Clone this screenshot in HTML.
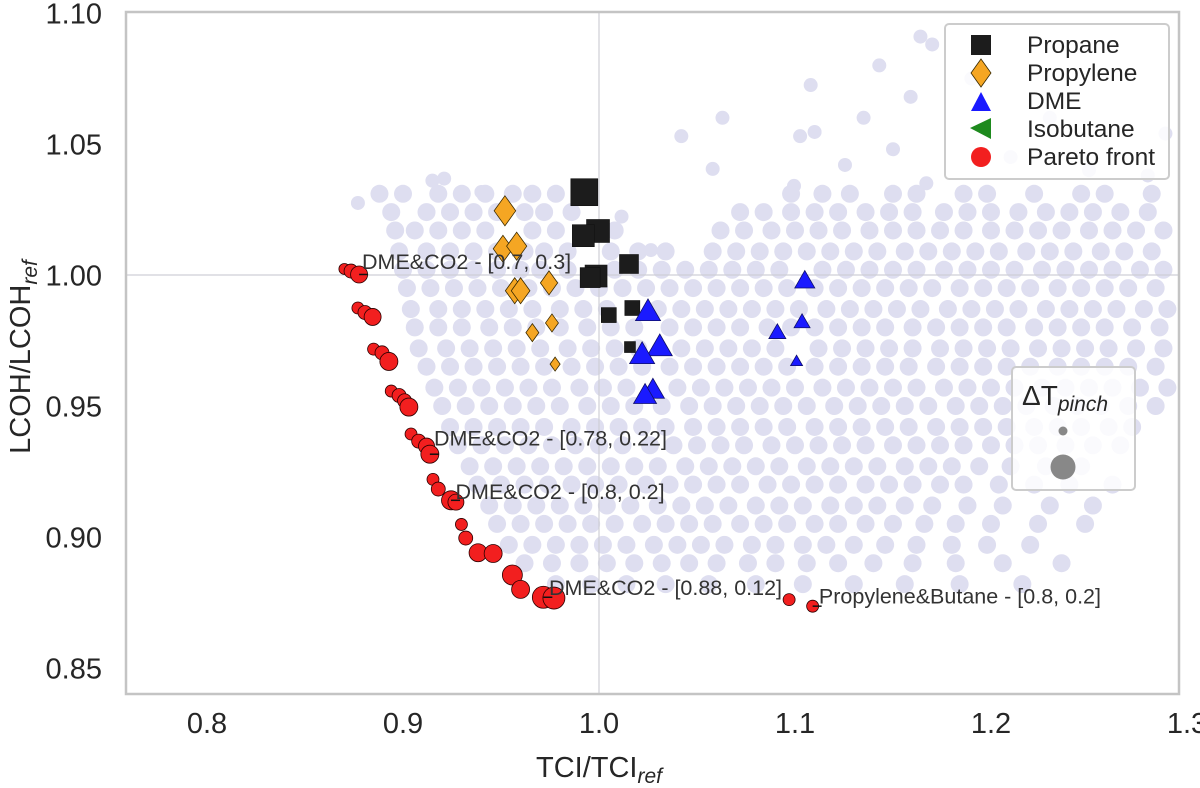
<!DOCTYPE html>
<html><head><meta charset="utf-8"><style>
html,body{margin:0;padding:0;background:#fff;}
svg{display:block;font-family:"Liberation Sans",Arial,sans-serif;}
</style></head><body>
<svg id="chart" width="1200" height="788" viewBox="0 0 1200 788" xmlns="http://www.w3.org/2000/svg">
<rect x="0" y="0" width="1200" height="788" fill="#fff"/>
<g id="cloud"></g>
<g id="grid"></g>
<g id="marks"></g>
<g id="annots"></g>
<g id="axes"></g>
<g id="legend"></g>
</svg>
<script>
// ---- data ----
const xTicks = [0.8, 0.9, 1.0, 1.1, 1.2, 1.3];
const xTickLabels = ["0.8", "0.9", "1.0", "1.1", "1.2", "1.3"];
const yTicks = [1.10, 1.05, 1.00, 0.95, 0.90, 0.85];
const yTickLabels = ["1.10", "1.05", "1.00", "0.95", "0.90", "0.85"];

const cloudRowY = [1.031,1.024,1.017,1.009,1.002,0.995,0.987,0.980,0.972,0.965,0.957,0.950,0.942,0.935,0.927,0.920,0.912,0.905,0.897,0.890,0.882];
const cloudRowX = [
"0.888 0.900 0.918 0.930 0.942 0.956 0.966 0.978 1.098 1.114 1.128 1.150 1.162 1.186 1.198 1.222 1.246 1.258 1.282",
"0.894 0.912 0.924 0.936 0.948 0.962 0.972 0.986 1.072 1.084 1.098 1.110 1.122 1.136 1.148 1.160 1.176 1.188 1.200 1.214 1.228 1.240 1.252 1.266 1.280",
"0.896 0.906 0.918 0.930 0.942 0.966 0.978 1.008 1.062 1.074 1.088 1.100 1.112 1.124 1.138 1.150 1.162 1.174 1.186 1.200 1.212 1.224 1.236 1.250 1.262 1.274 1.288",
"0.898 0.912 0.924 0.936 0.948 0.962 0.972 0.984 1.006 1.020 1.034 1.058 1.070 1.082 1.094 1.106 1.118 1.130 1.142 1.156 1.168 1.180 1.192 1.204 1.218 1.230 1.242 1.256 1.268 1.282",
"0.900 0.912 0.924 0.936 0.948 0.960 0.970 0.984 1.008 1.020 1.032 1.044 1.056 1.068 1.080 1.092 1.114 1.126 1.138 1.150 1.162 1.176 1.188 1.200 1.212 1.226 1.238 1.250 1.262 1.276 1.288",
"0.902 0.914 0.926 0.938 0.950 0.964 0.976 0.988 1.000 1.012 1.024 1.036 1.048 1.060 1.072 1.084 1.096 1.110 1.122 1.134 1.146 1.158 1.170 1.184 1.196 1.208 1.220 1.234 1.246 1.258 1.270 1.284",
"0.904 0.918 0.930 0.942 0.954 0.966 0.980 0.992 1.004 1.030 1.042 1.054 1.066 1.078 1.090 1.102 1.116 1.128 1.140 1.152 1.164 1.178 1.190 1.202 1.214 1.228 1.240 1.252 1.264 1.278 1.290",
"0.906 0.918 0.930 0.944 0.956 0.968 0.980 0.994 1.006 1.018 1.036 1.048 1.060 1.072 1.086 1.098 1.110 1.122 1.134 1.146 1.160 1.172 1.184 1.196 1.208 1.222 1.234 1.246 1.258 1.272 1.286",
"0.908 0.922 0.934 0.946 0.958 0.970 0.984 0.996 1.008 1.020 1.042 1.054 1.066 1.078 1.090 1.112 1.124 1.136 1.148 1.160 1.174 1.186 1.198 1.210 1.224 1.236 1.248 1.260 1.274 1.288",
"0.912 0.924 0.936 0.948 0.960 0.972 0.986 0.998 1.010 1.022 1.036 1.048 1.060 1.072 1.084 1.096 1.110 1.122 1.134 1.146 1.158 1.172 1.184 1.196 1.208 1.220 1.234 1.246 1.258 1.270 1.284",
"0.916 0.928 0.940 0.952 0.964 0.976 0.990 1.002 1.014 1.040 1.052 1.064 1.076 1.088 1.100 1.114 1.126 1.138 1.150 1.162 1.176 1.188 1.200 1.212 1.226 1.238 1.250 1.262 1.276 1.290",
"0.920 0.932 0.944 0.956 0.968 0.980 0.994 1.006 1.018 1.032 1.046 1.058 1.070 1.082 1.094 1.106 1.120 1.132 1.144 1.156 1.168 1.182 1.194 1.206 1.218 1.232 1.244 1.256 1.270 1.284",
"0.924 0.936 0.948 0.960 0.972 0.986 0.998 1.010 1.022 1.034 1.048 1.060 1.072 1.084 1.096 1.110 1.122 1.134 1.146 1.158 1.172 1.184 1.196 1.208 1.222 1.234 1.246 1.260 1.272",
"0.928 0.940 0.952 0.964 0.976 0.988 1.000 1.012 1.026 1.038 1.050 1.062 1.074 1.088 1.100 1.112 1.124 1.136 1.150 1.162 1.174 1.186 1.200 1.212 1.224 1.238 1.252 1.266",
"0.934 0.946 0.958 0.970 0.982 0.994 1.006 1.018 1.030 1.044 1.056 1.068 1.080 1.092 1.106 1.118 1.130 1.142 1.156 1.168 1.180 1.194 1.210 1.228 1.246",
"0.938 0.950 0.962 0.974 0.986 0.998 1.010 1.024 1.036 1.048 1.060 1.072 1.086 1.098 1.110 1.122 1.136 1.148 1.160 1.174 1.186 1.204 1.222 1.240 1.262",
"0.944 0.956 0.968 0.980 0.992 1.004 1.016 1.030 1.042 1.054 1.066 1.080 1.092 1.104 1.118 1.130 1.142 1.156 1.170 1.188 1.206 1.230 1.252",
"0.948 0.960 0.972 0.984 0.996 1.008 1.022 1.034 1.046 1.058 1.072 1.084 1.096 1.110 1.122 1.136 1.150 1.166 1.182 1.200 1.224 1.248",
"0.954 0.966 0.978 0.990 1.002 1.014 1.028 1.040 1.052 1.064 1.078 1.090 1.104 1.116 1.130 1.146 1.162 1.180 1.198 1.220",
"0.962 0.976 0.990 1.004 1.018 1.032 1.046 1.060 1.076 1.090 1.106 1.122 1.140 1.160 1.182 1.206 1.236",
"0.978 0.996 1.014 1.034 1.056 1.080 1.104 1.130 1.156 1.184 1.216"
];
const sparseX = [1.164,1.170,1.143,1.108,1.159,1.063,1.042,1.1026,1.110,1.135,1.150,1.1255,1.058,1.167,1.0995,1.289,0.921,0.915,0.877,0.940,1.0115,1.0265,1.210,1.250,1.280,1.190,1.230];
const sparseY = [1.091,1.088,1.080,1.0725,1.068,1.060,1.053,1.053,1.0546,1.060,1.048,1.042,1.0405,1.035,1.034,1.054,1.0368,1.036,1.0275,1.0317,1.0223,1.0095,1.045,1.040,1.038,1.075,1.060];

const propaneX = [0.9925,0.9995,0.992,0.9985,0.9955,1.0153,1.017,1.005,1.0158];
const propaneY = [1.0316,1.0168,1.015,0.9996,0.999,1.0042,0.9874,0.9847,0.9725];
const propanePinch = [10.5,8.5,8,8,7,6.5,4.5,4.5,2.5];

const propyleneX = [0.952,0.951,0.958,0.957,0.960,0.9745,0.976,0.966,0.9776];
const propyleneY = [1.0245,1.010,1.011,0.994,0.994,0.997,0.9817,0.978,0.966];
const propylenePinch = [12,10.5,11,10,10,9,6,6,4];

const dmeX = [1.025,1.031,1.022,1.0275,1.0235,1.105,1.1036,1.091,1.1008];
const dmeY = [0.9859,0.9725,0.9695,0.956,0.954,0.9977,0.982,0.978,0.967];
const dmePinch = [9.5,9.5,9.5,8.5,8.5,7,5,5.5,3];

const paretoX = [0.8701,0.8735,0.8776,0.877,0.8806,0.8845,0.885,0.8893,0.8928,0.894,0.898,0.9008,0.903,0.9041,0.908,0.912,0.9137,0.9153,0.918,0.9245,0.927,0.9298,0.932,0.9383,0.946,0.9558,0.960,0.9716,0.977,1.097,1.109];
const paretoY = [1.0023,1.0015,1.0002,0.9874,0.9857,0.984,0.9717,0.9703,0.967,0.9557,0.954,0.952,0.9496,0.9393,0.9366,0.9347,0.9316,0.922,0.9183,0.914,0.9133,0.9048,0.8996,0.894,0.8937,0.8855,0.880,0.877,0.8767,0.8761,0.8736];
const paretoPinch = [2.5,4,5.5,3,4,5.5,3,4,6,3,4,4,6,3,4,5,6,3,4,6.5,5,3,4,6,6,7,6,8,8,3,3];

const annotText = ["DME&CO2 - [0.7, 0.3]","DME&CO2 - [0.78, 0.22]","DME&CO2 - [0.8, 0.2]","DME&CO2 - [0.88, 0.12]","Propylene&Butane - [0.8, 0.2]"];
const annotPointX = [0.8776,0.9137,0.9245,0.9716,1.109];
const annotPointY = [1.0002,0.9316,0.914,0.877,0.8736];
const annotTextX = [0.8791,0.9158,0.9268,0.9745,1.1122];
const annotTextY = [1.0023,0.9349,0.9145,0.8779,0.8746];

// ---- scales ----
const X0 = 126, X1 = 1179, Y0 = 12, Y1 = 694;
function sx(v){ return 599 + (v - 1) * 1960; }
function sy(v){ return 275 - (v - 1) * 2620; }
function pinchSize(p){ return 6 + 2 * p; }

const NS = "http://www.w3.org/2000/svg";
function mk(tag, attrs, parent){
  const e = document.createElementNS(NS, tag);
  for (const k in attrs) e.setAttribute(k, attrs[k]);
  parent.appendChild(e);
  return e;
}

// cloud
const cloud = document.getElementById('cloud');
cloudRowY.forEach((yv, i) => {
  cloudRowX[i].split(' ').map(Number).forEach(xv => {
    const c = mk('circle', {cx: sx(xv), cy: sy(yv), r: 9, fill: '#dedef0'}, cloud);
    
    
  });
});
sparseX.forEach((xv, i) => {
  const c = mk('circle', {cx: sx(xv), cy: sy(sparseY[i]), r: 7, fill: '#dedef0'}, cloud);
  
  
});

// reference lines
const grid = document.getElementById('grid');
const vl = mk('line', {x1: sx(1), x2: sx(1), y1: Y0, y2: Y1, stroke: '#cfcfd6', 'stroke-width': 1.2}, grid);


const hl = mk('line', {x1: X0, x2: X1, y1: sy(1), y2: sy(1), stroke: '#cfcfd6', 'stroke-width': 1.2}, grid);



// markers
const marks = document.getElementById('marks');
propaneX.forEach((xv, i) => {
  const s = pinchSize(propanePinch[i]);
  const r = mk('rect', {x: sx(xv) - s/2, y: sy(propaneY[i]) - s/2, width: s, height: s, fill: '#1c1c1c', stroke: '#111', 'stroke-width': 0.6}, marks);
  
  
});
propyleneX.forEach((xv, i) => {
  const h = pinchSize(propylenePinch[i]) * 1.0, w = h * 0.72;
  const cx = sx(xv), cy = sy(propyleneY[i]);
  const p = mk('polygon', {points: `${cx},${cy-h/2} ${cx+w/2},${cy} ${cx},${cy+h/2} ${cx-w/2},${cy}`, fill: '#f5a623', stroke: '#3a2a00', 'stroke-width': 0.8}, marks);
  
  
});
dmeX.forEach((xv, i) => {
  const s = pinchSize(dmePinch[i]);
  const cx = sx(xv), cy = sy(dmeY[i]);
  const hh = s * 0.87;
  const p = mk('polygon', {points: `${cx},${cy-hh*0.6} ${cx+s/2},${cy+hh*0.4} ${cx-s/2},${cy+hh*0.4}`, fill: '#1a1aff', stroke: '#10106a', 'stroke-width': 0.8}, marks);
  
  
});
paretoX.forEach((xv, i) => {
  const c = mk('circle', {cx: sx(xv), cy: sy(paretoY[i]), r: pinchSize(paretoPinch[i]) / 2, fill: '#f21f1f', stroke: '#2a0000', 'stroke-width': 0.8}, marks);
  
  
});

// annotations
const annots = document.getElementById('annots');
annotText.forEach((t, i) => {
  const ln = mk('line', {x1: sx(annotPointX[i]), y1: sy(annotPointY[i]), x2: sx(annotPointX[i]) + 9, y2: sy(annotPointY[i]), stroke: '#111', 'stroke-width': 1.5}, annots);
  
  
  const tx = mk('text', {x: sx(annotTextX[i]), y: sy(annotTextY[i]), 'font-size': 21.5, fill: '#333'}, annots);
  tx.textContent = t;
  
  
});

// axes
const axes = document.getElementById('axes');
const frame = mk('rect', {x: X0, y: Y0, width: X1 - X0, height: Y1 - Y0, fill: 'none', stroke: '#c4c4c4', 'stroke-width': 2.5}, axes);


xTicks.forEach((v, i) => {
  const t = mk('text', {x: sx(v), y: 733, 'font-size': 29, fill: '#262626', 'text-anchor': 'middle'}, axes);
  t.textContent = xTickLabels[i];
  
  
});
yTicks.forEach((v, i) => {
  const t = mk('text', {x: 102, y: sy(v) + 10.5, 'font-size': 29, fill: '#262626', 'text-anchor': 'end'}, axes);
  t.textContent = yTickLabels[i];
  
  
});
</script>
<script>
const ax = document.getElementById('axes');
ax.insertAdjacentHTML('beforeend',
 '<text x="599" y="777" font-size="29" fill="#262626" text-anchor="middle">TCI/TCI<tspan font-size="21" font-style="italic" dy="6">ref</tspan></text>' +
 '<text transform="translate(30,357) rotate(-90)" font-size="29" fill="#262626" text-anchor="middle">LCOH/LCOH<tspan font-size="21" font-style="italic" dy="7">ref</tspan></text>');
const lg = document.getElementById('legend');
lg.insertAdjacentHTML('beforeend',
 '<rect x="945" y="24" width="224" height="155" rx="4" fill="#fff" fill-opacity="0.85" stroke="#cccccc" stroke-width="2"/>' +
 '<rect x="971" y="35" width="20" height="20" fill="#1c1c1c"/>' +
 '<text x="1027" y="53" font-size="24.5" fill="#262626">Propane</text>' +
 '<polygon points="981,59 991,73 981,87 971,73" fill="#f5a623" stroke="#3a2a00" stroke-width="0.8"/>' +
 '<text x="1027" y="81" font-size="24.5" fill="#262626">Propylene</text>' +
 '<polygon points="981,92 991,111 971,111" fill="#1a1aff"/>' +
 '<text x="1027" y="109" font-size="24.5" fill="#262626">DME</text>' +
 '<polygon points="970,128 991,118 991,139" fill="#1e8a1e"/>' +
 '<text x="1027" y="137" font-size="24.5" fill="#262626">Isobutane</text>' +
 '<circle cx="981" cy="157" r="10" fill="#f21f1f"/>' +
 '<text x="1027" y="165" font-size="24.5" fill="#262626">Pareto front</text>' +
 '<rect x="1012" y="367" width="123" height="123" rx="4" fill="#fff" fill-opacity="0.85" stroke="#cccccc" stroke-width="2"/>' +
 '<text x="1022" y="405" font-size="28" fill="#262626">ΔT<tspan font-size="21" font-style="italic" dy="6">pinch</tspan></text>' +
 '<circle cx="1063" cy="431" r="4.5" fill="#888"/>' +
 '<circle cx="1063" cy="467" r="12.5" fill="#888"/>');
</script>
</body></html>
